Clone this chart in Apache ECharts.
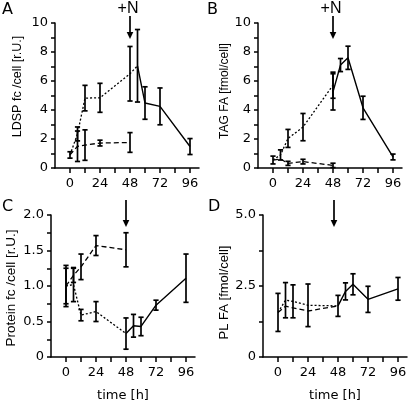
<!DOCTYPE html>
<html><head><meta charset="utf-8">
<script src="https://cdn.jsdelivr.net/npm/echarts@6/dist/echarts.min.js"></script>
<style>html,body{margin:0;padding:0;background:#fff}#c{width:415px;height:403px}</style>
</head><body><div id="c"></div>
<script>
// ---------- data ----------
const xTickValues = [0, 12, 24, 36, 48, 60, 72, 84, 96];
const xLabelValues = [0, 24, 48, 72, 96];
const nAdditionTime = 48;

// Panel A: LDSP fc /cell
const aStarveT = [0, 6, 12, 24, 48, 54];
const aStarve  = [0.9, 2.35, 4.82, 4.84, 6.5, 7.05];
const aStarveE = [0.22, 0.48, 0.88, 1.0, 1.88, null];
const aCtrlT   = [0, 6, 12, 24, 48];
const aCtrl    = [0.9, 1.5, 1.58, 1.72, 1.76];
const aCtrlE   = [null, 1.05, 1.05, 0.2, 0.68];
const aRecT    = [54, 60, 72, 96];
const aRec     = [7.05, 4.48, 4.25, 1.48];
const aRecE    = [2.5, 1.12, 1.27, 0.55];

// Panel B: TAG FA
const bStarveT = [0, 6, 12, 24, 48];
const bStarve  = [0.55, 0.9, 2.04, 2.82, 5.71];
const bStarveE = [0.27, 0.35, 0.62, 0.94, 0.9];
const bCtrlT   = [0, 6, 12, 24, 48];
const bCtrl    = [0.55, 0.62, 0.32, 0.44, 0.18];
const bCtrlE   = [null, null, 0.14, 0.16, 0.15];
const bRecT    = [48, 54, 60, 72, 96];
const bRec     = [5.25, 7.1, 7.6, 4.15, 0.76];
const bRecE    = [1.25, 0.45, 0.8, 0.8, 0.2];

// Panel C: Protein fc /cell
const cStarveT = [0, 6, 12, 24, 48];
const cStarve  = [1.0, 1.02, 0.59, 0.64, 0.33];
const cStarveE = [0.25, 0.24, 0.08, 0.14, 0.22];
const cCtrlT   = [0, 6, 12, 24, 48];
const cCtrl    = [1.0, 1.15, 1.27, 1.57, 1.51];
const cCtrlE   = [0.29, 0.1, 0.18, 0.14, 0.24];
const cRecT    = [48, 54, 60, 72, 96];
const cRec     = [0.33, 0.44, 0.43, 0.73, 1.11];
const cRecE    = [null, 0.16, 0.13, 0.07, 0.34];

// Panel D: PL FA
const dStarveT = [0, 6, 12, 24, 48];
const dStarve  = [1.57, 2.0, 1.96, 1.82, 1.8];
const dStarveE = [0.67, 0.62, 0.58, 0.75, 0.37];
const dCtrlT   = [0, 6, 12, 24, 48];
const dCtrl    = [1.57, 1.79, 1.73, 1.62, 1.8];
const dCtrlE   = [null, null, null, null, null];
const dRecT    = [48, 54, 60, 72, 96];
const dRec     = [1.8, 2.31, 2.56, 2.03, 2.4];
const dRecE    = [null, 0.3, 0.37, 0.46, 0.4];

const panels = [
  {letter:'A', name:'LDSP fc /cell [r.U.]', max:10, interval:2, plusN:true,
   st:[aStarveT,aStarve,aStarveE], ct:[aCtrlT,aCtrl,aCtrlE], rc:[aRecT,aRec,aRecE],
   nameGap:31, namePad:[0,0,0,18], nameSize:12.5, xName:''},
  {letter:'B', name:'TAG FA [fmol/cell]', max:10, interval:2, plusN:true,
   st:[bStarveT,bStarve,bStarveE], ct:[bCtrlT,bCtrl,bCtrlE], rc:[bRecT,bRec,bRecE],
   nameGap:23, namePad:[0,0,0,9], nameSize:12, xName:''},
  {letter:'C', name:'Protein fc /cell [r.U.]', max:2, interval:0.5, plusN:false,
   st:[cStarveT,cStarve,cStarveE], ct:[cCtrlT,cCtrl,cCtrlE], rc:[cRecT,cRec,cRecE],
   nameGap:33, namePad:[0,4,0,0], nameSize:13.5, xName:'time [h]'},
  {letter:'D', name:'PL FA [fmol/cell]', max:5, interval:2.5, plusN:false,
   st:[dStarveT,dStarve,dStarveE], ct:[dCtrlT,dCtrl,dCtrlE], rc:[dRecT,dRec,dRecE],
   nameGap:32, namePad:[0,13,0,0], nameSize:13, xName:'time [h]'}
];

// ---------- chart ----------
const chart = echarts.init(document.getElementById('c'), null, {renderer:'canvas'});
const BLACK = '#000';
const TICKFONT = {color:BLACK, fontFamily:'DejaVu Sans', fontSize:13};
const grids = [
  {left:55, top:23, width:144, height:145},
  {left:258, top:23, width:144, height:145},
  {left:51, top:215, width:144, height:144},
  {left:263, top:215, width:144, height:144}
];

function pairs(t, v) { return t.map((x, i) => [x, v[i]]); }
function errData(t, v, e) {
  const out = [];
  t.forEach((x, i) => { if (e[i] != null) out.push([x, v[i] - e[i], v[i] + e[i]]); });
  return out;
}
function renderErr(params, api) {
  const x = api.value(0);
  const lo = api.coord([x, api.value(1)]);
  const hi = api.coord([x, api.value(2)]);
  const w = 2.6;
  const st = {stroke: BLACK, lineWidth: 1.7};
  return {type:'group', children:[
    {type:'line', shape:{x1:lo[0], y1:lo[1], x2:hi[0], y2:hi[1]}, style:st},
    {type:'line', shape:{x1:lo[0]-w, y1:lo[1], x2:lo[0]+w, y2:lo[1]}, style:st},
    {type:'line', shape:{x1:hi[0]-w, y1:hi[1], x2:hi[0]+w, y2:hi[1]}, style:st}
  ]};
}

const xAxes = [], yAxes = [], series = [];
panels.forEach((p, gi) => {
  xAxes.push({
    gridIndex: gi, type:'value', min:-12, max:103.2,
    name: p.xName, nameLocation:'middle', nameGap:32,
    nameTextStyle:{color:BLACK, fontFamily:'DejaVu Sans', fontSize:13},
    axisLine:{show:true, onZero:false, lineStyle:{color:BLACK, width:1.5}},
    axisTick:{show:true, length:5, customValues:xTickValues, lineStyle:{color:BLACK, width:1.5}},
    axisLabel:Object.assign({customValues:xLabelValues, margin:9}, TICKFONT),
    splitLine:{show:false}
  });
  yAxes.push({
    gridIndex: gi, type:'value', min:0, max:p.max, interval:p.interval,
    name: p.name, nameLocation:'middle', nameGap:p.nameGap, nameRotate:90,
    nameTextStyle:{color:BLACK, fontFamily:'Liberation Sans', fontSize:p.nameSize, padding:p.namePad},
    axisLine:{show:true, onZero:false, lineStyle:{color:BLACK, width:1.5}},
    axisTick:{show:true, length:4, lineStyle:{color:BLACK, width:1.5}},
    minorTick:{show:true, splitNumber:2, length:4, lineStyle:{color:BLACK, width:1.5}},
    axisLabel:Object.assign({margin:7, formatter: v => (p.interval < 1 || p.max === 5) ? (v === 0 ? '0' : v.toFixed(1)) : String(v)}, TICKFONT),
    splitLine:{show:false}
  });
  const lineBase = {type:'line', xAxisIndex:gi, yAxisIndex:gi, symbol:'none', silent:true, z:3};
  series.push(Object.assign({}, lineBase, {name:'N-starved '+p.letter, data:pairs(p.st[0], p.st[1]),
    lineStyle:{color:BLACK, width:1.3, type:[2,2]}}));
  series.push(Object.assign({}, lineBase, {name:'control '+p.letter, data:pairs(p.ct[0], p.ct[1]),
    lineStyle:{color:BLACK, width:1.3, type:[5,3]}}));
  series.push(Object.assign({}, lineBase, {name:'+N '+p.letter, data:pairs(p.rc[0], p.rc[1]),
    lineStyle:{color:BLACK, width:1.4, type:'solid'}}));
  [p.st, p.ct, p.rc].forEach(s => {
    series.push({type:'custom', xAxisIndex:gi, yAxisIndex:gi, renderItem:renderErr,
      encode:{x:0, y:[1,2]}, data:errData(s[0], s[1], s[2]), silent:true, z:4});
  });
});

chart.setOption({animation:false, backgroundColor:'#fff', grid:grids, xAxis:xAxes, yAxis:yAxes, series:series});

// annotations: panel letters, +N labels and arrows at the N re-addition time
const graphics = [];
const letterPos = [[2, 2], [207, 2], [2, 199], [208, 199]];
const arrowY = [[16, 39], [16, 39], [200, 227], [200, 227]];
const arrowDx = [0, 0, 0, -4];
panels.forEach((p, gi) => {
  graphics.push({type:'text', left:letterPos[gi][0], top:letterPos[gi][1],
    style:{text:p.letter, fill:BLACK, font:'16px "DejaVu Sans"'}});
  const px = chart.convertToPixel({gridIndex:gi}, [nAdditionTime, 0])[0] + arrowDx[gi];
  const [y1, y2] = arrowY[gi];
  graphics.push({type:'line', shape:{x1:px, y1:y1, x2:px, y2:y2-5}, style:{stroke:BLACK, lineWidth:1.7}});
  graphics.push({type:'polygon', shape:{points:[[px-3.3, y2-7], [px+3.3, y2-7], [px, y2]]}, style:{fill:BLACK}});
  if (p.plusN) {
    graphics.push({type:'text', x:px-2, y:9, style:{text:'+N', fill:BLACK, font:'16px "Liberation Sans"', align:'center', verticalAlign:'middle'}});
  }
});
chart.setOption({graphic:graphics});
</script>
</body></html>
